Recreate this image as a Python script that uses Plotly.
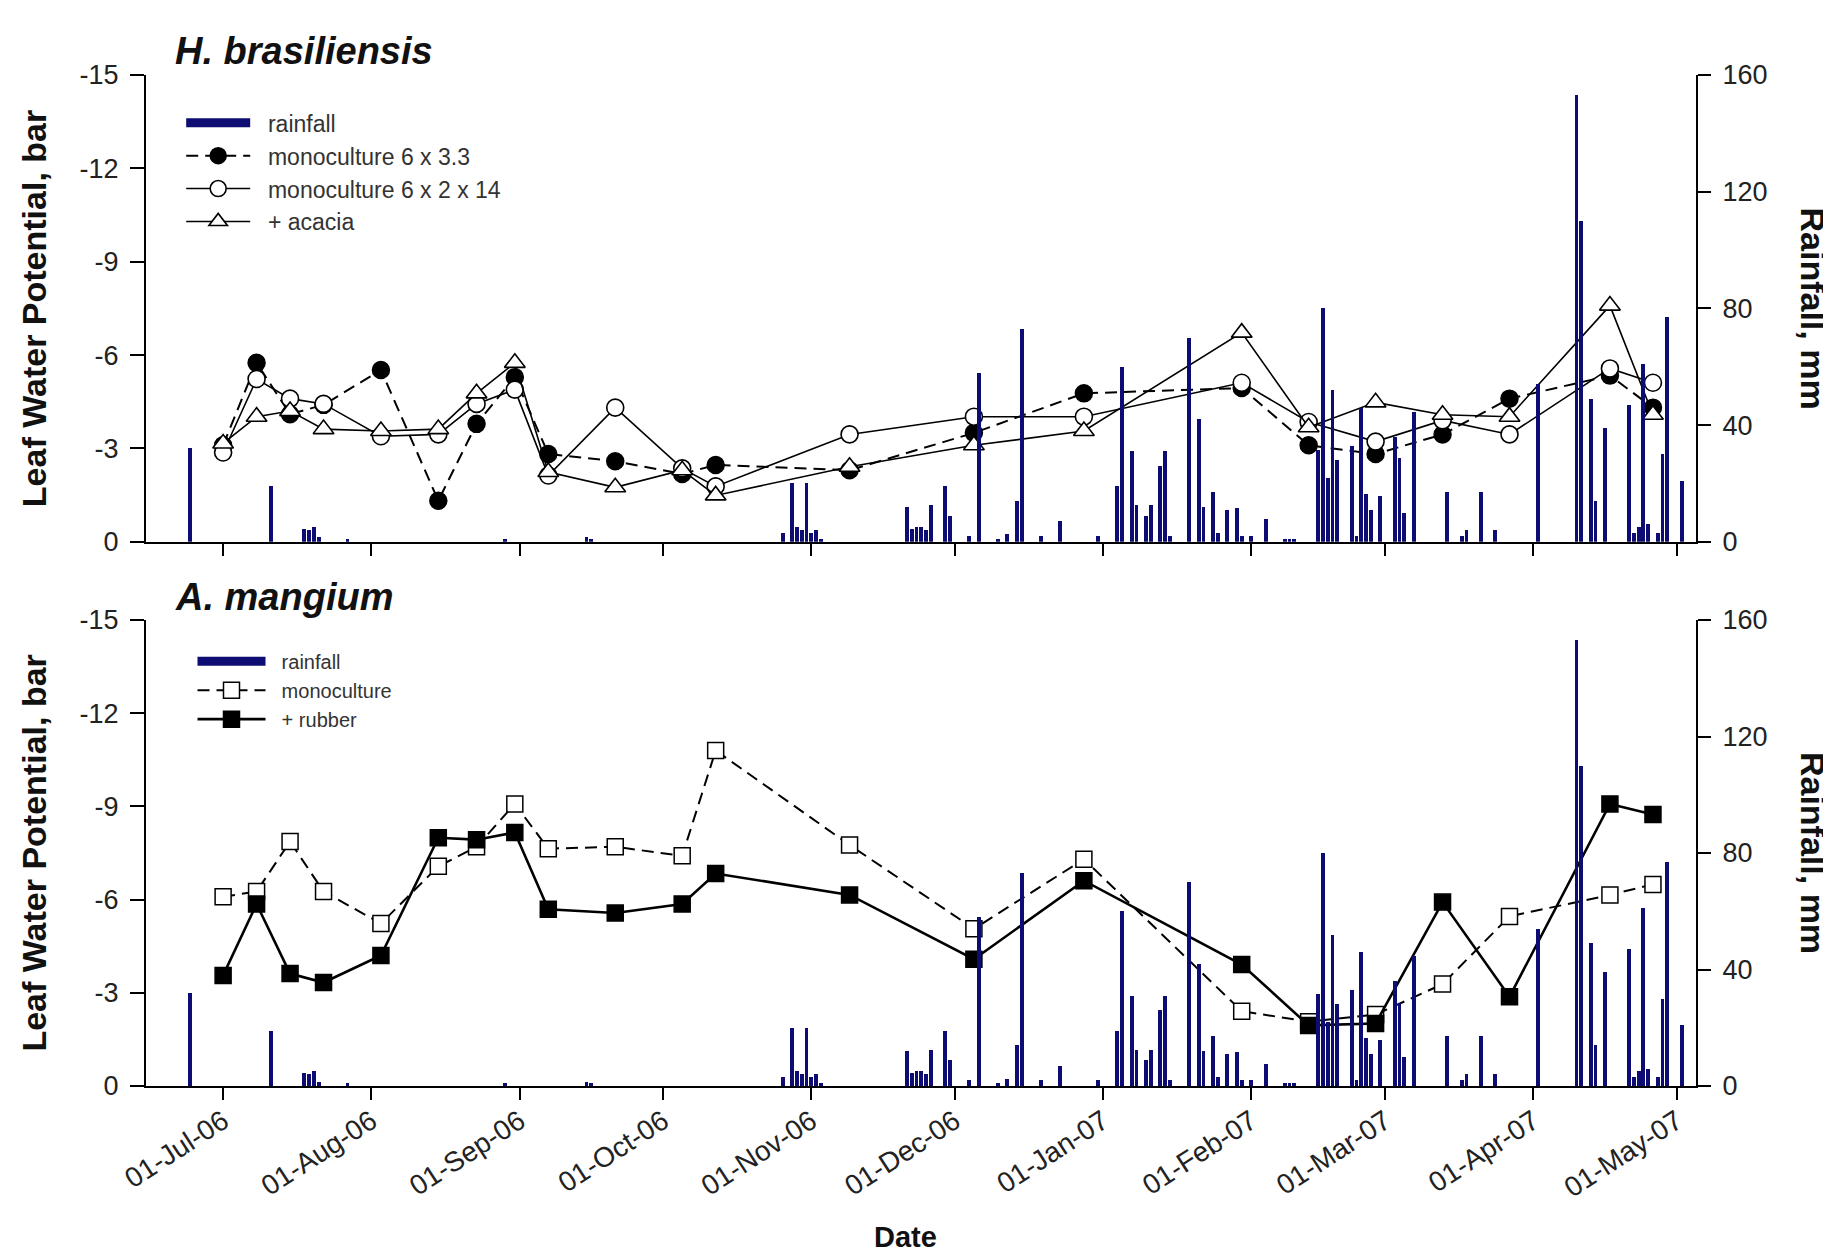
import plotly.graph_objects as go

# ---------------- data ----------------
dates = ["2006-07-01", "2006-07-08", "2006-07-15", "2006-07-22", "2006-08-03", "2006-08-15",
         "2006-08-23", "2006-08-31", "2006-09-07", "2006-09-21", "2006-10-05", "2006-10-12",
         "2006-11-09", "2006-12-05", "2006-12-28", "2007-01-30", "2007-02-13", "2007-02-27",
         "2007-03-13", "2007-03-27", "2007-04-17", "2007-04-26"]

hb_mono_33 = [-3.1, -5.75, -4.1, -4.4, -5.52, -1.32, -3.79, -5.29, -2.82, -2.59, -2.18, -2.47,
              -2.3, -3.5, -4.77, -4.94, -3.1, -2.82, -3.45, -4.6, -5.34, -4.31]
hb_mono_2_14 = [-2.87, -5.23, -4.6, -4.43, -3.39, -3.45, -4.43, -4.89, -2.13, -4.31, -2.36, -1.78,
                -3.45, -4.02, -4.02, -5.11, -3.85, -3.22, -3.9, -3.45, -5.57, -5.11]
hb_acacia = [-3.16, -4.02, -4.2, -3.62, -3.56, -3.62, -4.77, -5.75, -2.24, -1.75, -2.3, -1.49,
             -2.41, -3.1, -3.56, -6.72, -3.68, -4.48, -4.08, -4.02, -7.59, -4.08]

am_mono = [-6.09, -6.26, -7.87, -6.26, -5.23, -7.07, -7.7, -9.08, -7.64, -7.7, -7.41, -10.8,
           -7.76, -5.06, -7.3, -2.41, -2.07, -2.3, -3.28, -5.46, -6.15, -6.49]
am_rubber = [-3.56, -5.86, -3.62, -3.33, -4.2, -7.99, -7.93, -8.16, -5.69, -5.57, -5.86, -6.84,
             -6.15, -4.08, -6.61, -3.91, -1.95, -2.01, -5.92, -2.87, -9.08, -8.74]

rain_dates = ["2006-06-24", "2006-07-11", "2006-07-18", "2006-07-19", "2006-07-20", "2006-07-21",
              "2006-07-27", "2006-08-29", "2006-09-15", "2006-09-16",
              "2006-10-26", "2006-10-28", "2006-10-29", "2006-10-30", "2006-10-31", "2006-11-01",
              "2006-11-02", "2006-11-03",
              "2006-11-21", "2006-11-22", "2006-11-23", "2006-11-24", "2006-11-25", "2006-11-26",
              "2006-11-29", "2006-11-30", "2006-12-04", "2006-12-06", "2006-12-10", "2006-12-12",
              "2006-12-14", "2006-12-15", "2006-12-19", "2006-12-23", "2006-12-31",
              "2007-01-04", "2007-01-05", "2007-01-07", "2007-01-08", "2007-01-10", "2007-01-11",
              "2007-01-13", "2007-01-14", "2007-01-15", "2007-01-19", "2007-01-21", "2007-01-22",
              "2007-01-24", "2007-01-25", "2007-01-27", "2007-01-29", "2007-01-30",
              "2007-02-01", "2007-02-04", "2007-02-08", "2007-02-09", "2007-02-10",
              "2007-02-15", "2007-02-16", "2007-02-17", "2007-02-18", "2007-02-19", "2007-02-22",
              "2007-02-23", "2007-02-24", "2007-02-25", "2007-02-26", "2007-02-28",
              "2007-03-03", "2007-03-04", "2007-03-05", "2007-03-07", "2007-03-14", "2007-03-17",
              "2007-03-18", "2007-03-21", "2007-03-24",
              "2007-04-02", "2007-04-10", "2007-04-11", "2007-04-13", "2007-04-14", "2007-04-16",
              "2007-04-21", "2007-04-22", "2007-04-23", "2007-04-24", "2007-04-25", "2007-04-27",
              "2007-04-28", "2007-04-29", "2007-05-02"]
rain_mm = [32, 19, 4.5, 4, 5, 1.5,
           1, 1, 1.5, 1,
           3, 20, 5, 4, 20, 3,
           4, 1,
           12, 4.5, 5, 5, 4, 12.5,
           19, 9, 2, 58, 1, 2.5,
           14, 73, 2, 7, 2,
           19, 60, 31, 12.5, 9, 12.5,
           26, 31, 2, 70, 42, 12,
           17, 3, 11, 11.5, 2,
           2, 7.7, 1, 1, 1,
           31.5, 80, 22, 52, 28, 33,
           2, 46, 16.5, 11, 15.7,
           36, 28.6, 9.8, 44.6, 17.2, 2,
           4, 17.2, 4,
           54, 153, 110, 49, 14, 39,
           47, 3, 5, 61, 6, 3,
           30, 77, 21]

lwp_ticks = [0, -3, -6, -9, -12, -15]
lwp_ticktext = ["0", "-3", "-6", "-9", "-12", "-15"]
rain_ticks = [0, 40, 80, 120, 160]
rain_ticktext = ["0", "40", "80", "120", "160"]
month_ticks = ["2006-07-01", "2006-08-01", "2006-09-01", "2006-10-01", "2006-11-01", "2006-12-01",
               "2007-01-01", "2007-02-01", "2007-03-01", "2007-04-01", "2007-05-01"]
month_labels = ["01-Jul-06", "01-Aug-06", "01-Sep-06", "01-Oct-06", "01-Nov-06", "01-Dec-06",
                "01-Jan-07", "01-Feb-07", "01-Mar-07", "01-Apr-07", "01-May-07"]

top_legend_names = ["rainfall", "monoculture 6 x 3.3", "monoculture 6 x 2 x 14", "+ acacia"]
bottom_legend_names = ["rainfall", "monoculture", "+ rubber"]

# ---------------- styling ----------------
NAVY = "#0c0c72"
FONT = "Arial, Liberation Sans, sans-serif"
X_RANGE = ["2006-06-14 21:00", "2007-05-05 00:00"]
BAR_W = 0.8 * 86400000
DASH = "12px,7px"
PAD = "\u00a0\u00a0"

fig = go.Figure()

# ---- top panel: H. brasiliensis ----
fig.add_trace(go.Scatter(x=[None], y=[None], mode="lines", name=PAD + top_legend_names[0],
                         line=dict(color=NAVY, width=9), legend="legend", legendrank=1,
                         xaxis="x", yaxis="y2", hoverinfo="skip"))
fig.add_trace(go.Scatter(x=dates, y=hb_mono_33, mode="lines+markers", name=PAD + top_legend_names[1],
                         line=dict(color="black", width=2, dash=DASH),
                         marker=dict(symbol="circle", size=17, color="black",
                                     line=dict(color="black", width=1.5)),
                         legend="legend", legendrank=2, xaxis="x", yaxis="y"))
fig.add_trace(go.Scatter(x=dates, y=hb_mono_2_14, mode="lines+markers", name=PAD + top_legend_names[2],
                         line=dict(color="black", width=1.6),
                         marker=dict(symbol="circle", size=17, color="white",
                                     line=dict(color="black", width=1.6)),
                         legend="legend", legendrank=3, xaxis="x", yaxis="y"))
fig.add_trace(go.Scatter(x=dates, y=hb_acacia, mode="lines+markers", name=PAD + top_legend_names[3],
                         line=dict(color="black", width=1.6),
                         marker=dict(symbol="triangle-up", size=18, color="white",
                                     line=dict(color="black", width=1.6)),
                         legend="legend", legendrank=4, xaxis="x", yaxis="y"))
fig.add_trace(go.Bar(x=rain_dates, y=rain_mm, width=BAR_W, marker=dict(color=NAVY, line=dict(width=0)),
                     showlegend=False, xaxis="x", yaxis="y2", name="rainfall"))

# ---- bottom panel: A. mangium ----
fig.add_trace(go.Scatter(x=[None], y=[None], mode="lines", name=PAD + bottom_legend_names[0],
                         line=dict(color=NAVY, width=9), legend="legend2", legendrank=1,
                         xaxis="x2", yaxis="y4", hoverinfo="skip"))
fig.add_trace(go.Scatter(x=dates, y=am_mono, mode="lines+markers", name=PAD + bottom_legend_names[1],
                         line=dict(color="black", width=2, dash=DASH),
                         marker=dict(symbol="square", size=16, color="white",
                                     line=dict(color="black", width=1.5)),
                         legend="legend2", legendrank=2, xaxis="x2", yaxis="y3"))
fig.add_trace(go.Scatter(x=dates, y=am_rubber, mode="lines+markers", name=PAD + bottom_legend_names[2],
                         line=dict(color="black", width=2.6),
                         marker=dict(symbol="square", size=16, color="black",
                                     line=dict(color="black", width=1.5)),
                         legend="legend2", legendrank=3, xaxis="x2", yaxis="y3"))
fig.add_trace(go.Bar(x=rain_dates, y=rain_mm, width=BAR_W, marker=dict(color=NAVY, line=dict(width=0)),
                     showlegend=False, xaxis="x2", yaxis="y4", name="rainfall"))

axis_common = dict(showgrid=False, zeroline=False, showline=True, linecolor="black", linewidth=2,
                   ticks="outside", tickcolor="black", tickwidth=2, ticklen=14,
                   tickfont=dict(family=FONT, size=27, color="#222"))

TOP_DOM = [0.5383, 1.0]
BOT_DOM = [0.0, 0.4609]

fig.update_layout(
    width=1831, height=1252,
    margin=dict(l=138, r=143, t=67, b=174),
    paper_bgcolor="white", plot_bgcolor="white",
    barmode="overlay", bargap=0,
    font=dict(family=FONT, color="black"),
    xaxis=dict(axis_common, domain=[0, 1], anchor="y", type="date", range=X_RANGE, ticklen=12,
               tickvals=month_ticks, ticktext=month_labels, showticklabels=False),
    yaxis=dict(axis_common, domain=TOP_DOM, anchor="x", range=[0, -15],
               tickvals=lwp_ticks, ticktext=lwp_ticktext, ticklabelstandoff=6),
    yaxis2=dict(axis_common, overlaying="y", side="right", anchor="x", range=[0, 160],
                tickvals=rain_ticks, ticktext=rain_ticktext, ticklen=13, ticklabelstandoff=6),
    xaxis2=dict(axis_common, domain=[0, 1], anchor="y3", type="date", range=X_RANGE, ticklen=12,
                tickvals=month_ticks, ticktext=month_labels, tickangle=-33,
                tickfont=dict(family=FONT, size=28, color="#222"), ticklabelstandoff=-6),
    yaxis3=dict(axis_common, domain=BOT_DOM, anchor="x2", range=[0, -15],
                tickvals=lwp_ticks, ticktext=lwp_ticktext, ticklabelstandoff=6),
    yaxis4=dict(axis_common, overlaying="y3", side="right", anchor="x2", range=[0, 160],
                tickvals=rain_ticks, ticktext=rain_ticktext, ticklen=13, ticklabelstandoff=6),
    legend=dict(x=0.0227, y=0.974, xanchor="left", yanchor="top", bgcolor="rgba(0,0,0,0)",
                font=dict(family=FONT, size=23, color="#333"), tracegroupgap=0,
                itemwidth=64, traceorder="normal"),
    legend2=dict(x=0.030, y=0.4395, xanchor="left", yanchor="top", bgcolor="rgba(0,0,0,0)",
                 font=dict(family=FONT, size=20, color="#333"), tracegroupgap=0,
                 itemwidth=68, traceorder="normal"),
    showlegend=True,
)

ann_font_title = dict(family=FONT, size=38, color="#111")
ann_font_axis = dict(family=FONT, size=34, color="#111")
annotations = [
    dict(text="<b><i>H. brasiliensis</i></b>", x=0.0174, y=1.0237, xref="paper", yref="paper",
         xanchor="left", yanchor="middle", showarrow=False, font=ann_font_title),
    dict(text="<b><i>A. mangium</i></b>", x=0.0174, y=0.4832, xref="paper", yref="paper",
         xanchor="left", yanchor="middle", showarrow=False, font=ann_font_title),
    dict(text="<b>Leaf Water Potential, bar</b>", x=-0.0725, y=0.769, xref="paper", yref="paper",
         xanchor="center", yanchor="middle", textangle=-90, showarrow=False, font=ann_font_axis),
    dict(text="<b>Leaf Water Potential, bar</b>", x=-0.0725, y=0.2305, xref="paper", yref="paper",
         xanchor="center", yanchor="middle", textangle=-90, showarrow=False, font=ann_font_axis),
    dict(text="<b>Rainfall, mm</b>", x=1.0755, y=0.769, xref="paper", yref="paper",
         xanchor="center", yanchor="middle", textangle=90, showarrow=False, font=ann_font_axis),
    dict(text="<b>Rainfall, mm</b>", x=1.0755, y=0.2305, xref="paper", yref="paper",
         xanchor="center", yanchor="middle", textangle=90, showarrow=False, font=ann_font_axis),
    dict(text="<b>Date</b>", x=0.4903, y=-0.1493, xref="paper", yref="paper",
         xanchor="center", yanchor="middle", showarrow=False,
         font=dict(family=FONT, size=29, color="#111")),
]
fig.update_layout(annotations=annotations)

fig.write_html("out.html")
